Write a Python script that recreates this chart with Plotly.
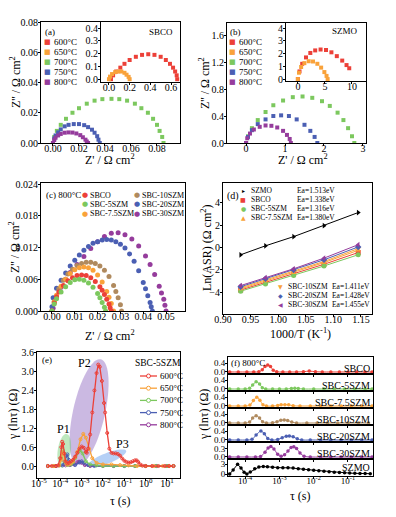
import numpy as np
import plotly.graph_objects as go

W, H = 396, 517
OX, OY = 0, 0
FONT = "Liberation Serif"
RED = "#ec4038"; ORANGE = "#f9a23a"; GREEN = "#7cc85e"; BLUE = "#4b5fb3"
PURPLE = "#953c9c"; BROWN = "#b08a5e"; BLACK = "#000000"

# ---------------- (a) SBCO Nyquist ----------------
a_labels = ["600°C", "650°C", "700°C", "750°C", "800°C"]
a600_x = [0.02, 0.04, 0.07, 0.11, 0.15, 0.20, 0.26, 0.32, 0.38, 0.44, 0.50, 0.55, 0.59, 0.62, 0.64, 0.655, 0.66]
a600_y = [0.00, 0.03, 0.06, 0.09, 0.12, 0.15, 0.175, 0.19, 0.195, 0.19, 0.175, 0.15, 0.12, 0.09, 0.06, 0.03, 0.00]
a650_x = [0.00, 0.01, 0.03, 0.06, 0.09, 0.12, 0.15, 0.17, 0.19, 0.20]
a650_y = [0.00, 0.02, 0.04, 0.055, 0.06, 0.06, 0.05, 0.035, 0.018, 0.00]
a700_x = [0.000, 0.001, 0.003, 0.006, 0.010, 0.015, 0.020, 0.026, 0.032, 0.038, 0.045, 0.051, 0.057, 0.063, 0.068, 0.073, 0.077, 0.080, 0.082, 0.084, 0.085]
a700_y = [0.000, 0.004, 0.008, 0.012, 0.016, 0.020, 0.023, 0.026, 0.028, 0.029, 0.0292, 0.029, 0.028, 0.026, 0.023, 0.020, 0.016, 0.012, 0.008, 0.004, 0.000]
a750_x = [0.000, 0.001, 0.002, 0.004, 0.006, 0.009, 0.012, 0.016, 0.020, 0.024, 0.027, 0.030, 0.032, 0.034, 0.035, 0.036]
a750_y = [0.000, 0.003, 0.005, 0.007, 0.009, 0.011, 0.012, 0.0125, 0.0125, 0.0118, 0.0105, 0.0088, 0.0068, 0.0045, 0.0022, 0.000]
a800_x = [0.000, 0.001, 0.002, 0.004, 0.006, 0.009, 0.012, 0.015, 0.018, 0.021, 0.023, 0.025, 0.026, 0.027]
a800_y = [0.000, 0.002, 0.0035, 0.005, 0.006, 0.0068, 0.007, 0.0069, 0.0063, 0.0052, 0.0038, 0.0022, 0.001, 0.000]

# ---------------- (b) SZMO Nyquist ----------------
b600_x = [0.0, 0.3, 0.8, 1.5, 2.3, 3.2, 4.2, 5.2, 6.2, 7.2, 8.2, 9.0, 9.5]
b600_y = [0.0, 0.6, 1.2, 1.7, 2.05, 2.25, 2.32, 2.28, 2.1, 1.8, 1.45, 1.1, 0.85]
b650_x = [0.0, 0.2, 0.6, 1.2, 2.0, 2.8, 3.6, 4.3, 4.9, 5.3, 5.5]
b650_y = [0.0, 0.5, 0.95, 1.25, 1.4, 1.38, 1.2, 0.9, 0.55, 0.25, 0.0]
b700_x = [0.00, 0.05, 0.15, 0.30, 0.50, 0.70, 0.95, 1.20, 1.45, 1.70, 1.95, 2.15, 2.35, 2.50, 2.62, 2.72, 2.78]
b700_y = [0.00, 0.10, 0.22, 0.34, 0.46, 0.56, 0.63, 0.68, 0.69, 0.67, 0.62, 0.55, 0.45, 0.34, 0.22, 0.10, 0.00]
b750_x = [0.00, 0.05, 0.15, 0.30, 0.50, 0.70, 0.90, 1.10, 1.30, 1.50, 1.65, 1.76, 1.83]
b750_y = [0.00, 0.09, 0.19, 0.28, 0.35, 0.40, 0.41, 0.40, 0.35, 0.27, 0.18, 0.09, 0.00]
b800_x = [0.00, 0.03, 0.10, 0.20, 0.35, 0.50, 0.65, 0.80, 0.95, 1.05, 1.12, 1.15]
b800_y = [0.00, 0.07, 0.14, 0.20, 0.24, 0.26, 0.255, 0.23, 0.18, 0.12, 0.06, 0.00]

# ---------------- (c) 800 °C Nyquist ----------------
c_names = ["SBCO", "SBC-5SZM", "SBC-7.5SZM", "SBC-10SZM", "SBC-20SZM", "SBC-30SZM"]
c_sbco_x = [0.000, 0.001, 0.002, 0.003, 0.005, 0.007, 0.009, 0.011, 0.013, 0.015, 0.017, 0.019, 0.021, 0.022, 0.023, 0.024, 0.025, 0.0255, 0.026]
c_sbco_y = [0.000, 0.0015, 0.0027, 0.0036, 0.0048, 0.0057, 0.0063, 0.0067, 0.0068, 0.0067, 0.0063, 0.0056, 0.0046, 0.0039, 0.0031, 0.0022, 0.0013, 0.0006, 0.000]
c_5_x = [0.000, 0.001, 0.002, 0.004, 0.006, 0.008, 0.010, 0.012, 0.014, 0.016, 0.018, 0.020, 0.021, 0.022, 0.023, 0.0235]
c_5_y = [0.000, 0.0013, 0.0023, 0.0036, 0.0046, 0.0054, 0.0059, 0.0060, 0.0058, 0.0053, 0.0045, 0.0033, 0.0025, 0.0016, 0.0007, 0.000]
c_75_x = [0.000, 0.001, 0.002, 0.004, 0.006, 0.008, 0.010, 0.012, 0.014, 0.016, 0.018, 0.020, 0.022, 0.024, 0.025, 0.026, 0.027]
c_75_y = [0.000, 0.0017, 0.003, 0.0047, 0.006, 0.0071, 0.0078, 0.0082, 0.0083, 0.0082, 0.0077, 0.0068, 0.0055, 0.0037, 0.0026, 0.0014, 0.000]
c_10_x = [0.000, 0.001, 0.003, 0.005, 0.007, 0.009, 0.011, 0.013, 0.015, 0.017, 0.019, 0.021, 0.023, 0.025, 0.027, 0.028, 0.029, 0.030, 0.0305]
c_10_y = [0.000, 0.0018, 0.0042, 0.0058, 0.007, 0.0079, 0.0086, 0.009, 0.0092, 0.0092, 0.009, 0.0085, 0.0077, 0.0065, 0.0048, 0.0037, 0.0025, 0.0012, 0.000]
c_20_x = [0.000, 0.0005, 0.002, 0.004, 0.006, 0.008, 0.010, 0.012, 0.014, 0.016, 0.018, 0.020, 0.022, 0.024, 0.026, 0.028, 0.030, 0.032, 0.034, 0.036, 0.038, 0.040, 0.041, 0.042, 0.043, 0.0435, 0.044]
c_20_y = [0.0008, 0.0025, 0.0043, 0.0058, 0.0072, 0.0085, 0.0096, 0.0106, 0.0115, 0.0122, 0.0128, 0.0131, 0.0134, 0.0135, 0.0134, 0.0131, 0.0126, 0.0119, 0.0108, 0.0094, 0.0076, 0.0054, 0.0042, 0.0029, 0.0016, 0.0008, 0.000]
c_30_x = [0.0005, 0.002, 0.004, 0.006, 0.008, 0.011, 0.014, 0.017, 0.020, 0.023, 0.026, 0.029, 0.032, 0.035, 0.038, 0.041, 0.043, 0.045, 0.047, 0.048, 0.049, 0.0495, 0.050]
c_30_y = [0.0005, 0.0025, 0.0045, 0.006, 0.0073, 0.0088, 0.0103, 0.0118, 0.0131, 0.0141, 0.0147, 0.0148, 0.0144, 0.0136, 0.0123, 0.0104, 0.0088, 0.0069, 0.0047, 0.0034, 0.0022, 0.0011, 0.000]

# ---------------- (d) Arrhenius ----------------
d_invT = [0.932, 0.977, 1.028, 1.083, 1.145]
d_szmo = [-0.65, 0.15, 0.97, 1.95, 3.12]
d_sbco = [-3.8, -3.1, -2.35, -1.5, -0.45]
d_5 = [-3.9, -3.25, -2.5, -1.65, -0.65]
d_75 = [-3.7, -3.0, -2.25, -1.35, -0.25]
d_10 = [-3.6, -2.9, -2.15, -1.25, -0.1]
d_20 = [-3.5, -2.8, -2.0, -1.1, 0.05]
d_30 = [-3.4, -2.7, -1.9, -0.95, 0.25]
d_ea = ["Ea=1.513eV", "Ea=1.338eV", "Ea=1.316eV", "Ea=1.380eV", "Ea=1.411eV", "Ea=1.428eV", "Ea=1.455eV"]

# ---------------- (e) DRT of SBC-5SZM (log10 tau, gamma) ----------------
e600_lt = [-4.58, -4.4, -4.2, -4.1, -4.0, -3.95, -3.91, -3.87, -3.82, -3.75, -3.67, -3.6, -3.5, -3.4, -3.3, -3.2, -3.1, -3.0, -2.9, -2.8, -2.76, -2.7, -2.6, -2.5, -2.4, -2.3, -2.22, -2.15, -2.05, -1.95, -1.9, -1.8, -1.7, -1.6, -1.5, -1.4, -1.3, -1.2, -1.1, -1.0, -0.9, -0.8, -0.7, -0.6, -0.5, -0.42, -0.35, -0.25, -0.15, 0.0, 0.3, 0.6, 0.9, 1.1, 1.3]
e600_g = [0, 0, 0, 0.02, 0.25, 0.6, 0.77, 0.7, 0.4, 0.15, 0.08, 0.1, 0.15, 0.2, 0.3, 0.42, 0.55, 0.62, 0.58, 0.45, 0.42, 0.55, 1.0, 1.7, 2.4, 2.95, 3.22, 3.15, 2.7, 2.0, 1.7, 1.05, 0.55, 0.42, 0.4, 0.4, 0.38, 0.33, 0.24, 0.17, 0.13, 0.11, 0.12, 0.15, 0.18, 0.18, 0.13, 0.05, 0.01, 0, 0, 0, 0, 0, 0]
e650_lt = [-4.58, -4.3, -4.05, -3.95, -3.9, -3.85, -3.78, -3.7, -3.6, -3.5, -3.4, -3.3, -3.2, -3.05, -2.92, -2.8, -2.65, -2.5, -2.3, -2.0, -1.6, -1.2, -0.8, -0.4, 0.0, 0.4, 0.8, 1.1, 1.3]
e650_g = [0, 0, 0.02, 0.2, 0.45, 0.4, 0.15, 0.05, 0.05, 0.08, 0.15, 0.28, 0.45, 0.85, 1.02, 0.9, 0.55, 0.25, 0.1, 0.05, 0.05, 0.03, 0.02, 0.0, 0, 0, 0, 0, 0]
e700_lt = [-4.58, -4.3, -4.05, -3.95, -3.88, -3.82, -3.75, -3.65, -3.5, -3.4, -3.3, -3.15, -3.08, -2.95, -2.8, -2.6, -2.3, -2.0, -1.5, -1.0, -0.5, 0.0, 0.5, 1.0, 1.3]
e700_g = [0, 0, 0.02, 0.25, 0.5, 0.4, 0.12, 0.03, 0.05, 0.12, 0.25, 0.45, 0.5, 0.4, 0.15, 0.05, 0.02, 0, 0, 0, 0, 0, 0, 0, 0]
e750_lt = [-4.58, -4.2, -3.9, -3.8, -3.72, -3.67, -3.6, -3.5, -3.3, -3.1, -3.0, -2.9, -2.7, -2.4, -2.0, -1.5, -1.0, -0.5, 0.0, 0.5, 1.0, 1.3]
e750_g = [0, 0, 0.02, 0.15, 0.32, 0.37, 0.2, 0.05, 0.03, 0.12, 0.15, 0.1, 0.03, 0, 0, 0, 0, 0, 0, 0, 0, 0]
e800_lt = [-4.58, -4.2, -3.75, -3.65, -3.55, -3.35, -3.2, -3.12, -3.0, -2.85, -2.6, -2.0, -1.5, -1.0, -0.5, 0.0, 0.5, 1.0, 1.3]
e800_g = [0, 0, 0.02, 0.06, 0.03, 0.05, 0.12, 0.14, 0.1, 0.03, 0, 0, 0, 0, 0, 0, 0, 0, 0]
e_labels = ["600°C", "650°C", "700°C", "750°C", "800°C"]

# ---------------- (f) DRT at 800 °C (log10 tau, gamma) ----------------
f_names = ["SBCO", "SBC-5SZM", "SBC-7.5SZM", "SBC-10SZM", "SBC-20SZM", "SBC-30SZM", "SZMO"]
f_sbco_lt = [-4.45, -4.2, -3.95, -3.75, -3.6, -3.5, -3.42, -3.34, -3.26, -3.18, -3.08, -2.9, -2.7, -2.5, -2.3, -2.13, -1.95, -1.75, -1.5, -1.25, -1.0, -0.75, -0.5, -0.3]
f_sbco_g = [0, 0, 0, 0, 0.01, 0.1, 0.25, 0.31, 0.24, 0.08, 0.01, 0, 0, 0, 0.01, 0.04, 0.01, 0, 0, 0, 0, 0, 0, 0]
f_5_lt = [-4.45, -4.2, -4.0, -3.87, -3.78, -3.68, -3.58, -3.5, -3.4, -3.2, -3.0, -2.8, -2.65, -2.55, -2.45, -2.3, -2.0, -1.7, -1.4, -1.1, -0.8, -0.5, -0.3]
f_5_g = [0, 0, 0, 0.03, 0.18, 0.32, 0.22, 0.06, 0.0, 0, 0, 0, 0.02, 0.03, 0.02, 0, 0, 0, 0, 0, 0, 0, 0]
f_75_lt = [-4.45, -4.2, -4.0, -3.86, -3.76, -3.66, -3.57, -3.48, -3.38, -3.2, -3.05, -2.95, -2.84, -2.73, -2.6, -2.4, -2.1, -1.8, -1.5, -1.2, -0.9, -0.6, -0.3]
f_75_g = [0, 0, 0, 0.04, 0.25, 0.39, 0.26, 0.06, 0.0, 0, 0.02, 0.05, 0.06, 0.05, 0.01, 0, 0, 0, 0, 0, 0, 0, 0]
f_10_lt = [-4.45, -4.2, -4.0, -3.87, -3.78, -3.68, -3.58, -3.49, -3.38, -3.2, -3.07, -2.96, -2.86, -2.76, -2.64, -2.5, -2.2, -1.9, -1.6, -1.3, -1.0, -0.7, -0.4]
f_10_g = [0, 0, 0, 0.04, 0.22, 0.32, 0.22, 0.05, 0.0, 0.01, 0.06, 0.12, 0.13, 0.11, 0.04, 0, 0, 0, 0, 0, 0, 0, 0]
f_20_lt = [-4.45, -4.2, -3.95, -3.8, -3.68, -3.54, -3.44, -3.34, -3.22, -3.05, -2.92, -2.8, -2.71, -2.6, -2.48, -2.35, -2.1, -1.8, -1.5, -1.2, -0.9, -0.6, -0.3]
f_20_g = [0, 0, 0, 0.03, 0.22, 0.40, 0.28, 0.07, 0.0, 0.02, 0.1, 0.17, 0.18, 0.14, 0.05, 0, 0, 0, 0, 0, 0, 0, 0]
f_30_lt = [-4.45, -4.2, -3.95, -3.7, -3.55, -3.42, -3.33, -3.25, -3.16, -3.05, -2.95, -2.85, -2.75, -2.66, -2.58, -2.5, -2.4, -2.28, -2.1, -1.8, -1.5, -1.2, -0.9, -0.6, -0.3]
f_30_g = [0, 0, 0, 0, 0.02, 0.18, 0.34, 0.39, 0.3, 0.1, 0.03, 0.08, 0.22, 0.35, 0.38, 0.32, 0.15, 0.03, 0, 0, 0, 0, 0, 0, 0]
f_szmo_lt = [-4.45, -4.35, -4.22, -4.12, -4.03, -3.95, -3.85, -3.72, -3.6, -3.47, -3.35, -3.2, -3.05, -2.9, -2.75, -2.6, -2.45, -2.3, -2.15, -2.0, -1.85, -1.7, -1.55, -1.4, -1.25, -1.1, -0.95, -0.8, -0.65, -0.5, -0.35]
f_szmo_g = [0, 1.2, 2.9, 1.8, 0.5, 0.0, 0.6, 1.6, 2.1, 2.25, 2.15, 2.0, 1.85, 1.85, 1.9, 1.8, 1.6, 1.45, 1.3, 1.15, 1.0, 0.85, 0.7, 0.55, 0.45, 0.35, 0.27, 0.2, 0.15, 0.12, 0.1]


def tau(lt):
    return [10 ** v for v in lt]


def px2x(px):
    return (px - OX) / W


def py2y(py):
    return 1 - (py - OY) / H


def dxd(a, b):
    return [px2x(a), px2x(b)]


def dyd(top, bottom):
    return [py2y(bottom), py2y(top)]


def axis(domain, anchor, rng, typ="linear", dtick=None, tick0=None, fmt=None,
         tickvals=None, ticktext=None, labels=True, size=10, xaxis=True, **kw):
    d = dict(domain=domain, anchor=anchor, range=rng, type=typ, showline=True,
             linecolor="black", linewidth=1, mirror=True, ticks="outside",
             ticklen=2, tickwidth=1, tickcolor="black", showgrid=False,
             zeroline=False, showticklabels=labels,
             ticklabelstandoff=-6 if xaxis else -2,
             tickfont=dict(family=FONT, size=size, color="black"))
    if dtick is not None:
        d["dtick"] = dtick
        d["tick0"] = tick0 if tick0 is not None else 0
    if fmt:
        d["tickformat"] = fmt
    if tickvals is not None:
        d["tickvals"] = tickvals
        d["tickmode"] = "array"
    if ticktext is not None:
        d["ticktext"] = ticktext
    d.update(kw)
    return d


fig = go.Figure()
L = {}

L["xaxis"] = axis(dxd(41, 180), "y", [-0.0092, 0.0977], dtick=0.02, fmt=".2f")
L["yaxis"] = axis(dyd(22, 143), "x", [0, 0.08], dtick=0.02, fmt=".2f", xaxis=False)
L["xaxis2"] = axis(dxd(101, 180), "y2", [-0.077, 0.687], dtick=0.2, fmt=".1f")
L["yaxis2"] = axis(dyd(22, 82), "x2", [-0.022, 0.447], dtick=0.1, fmt=".1f", xaxis=False)
L["xaxis3"] = axis(dxd(227, 366), "y3", [-0.49, 3.08], dtick=1)
L["yaxis3"] = axis(dyd(23, 143), "x3", [0, 1.78], dtick=0.4, fmt=".1f", xaxis=False)
L["xaxis4"] = axis(dxd(286, 366), "y4", [-2.2, 12.6], dtick=5)
L["yaxis4"] = axis(dyd(23, 81), "x4", [-0.15, 4.4], dtick=1, xaxis=False)
L["xaxis5"] = axis(dxd(41, 185), "y5", [-0.0048, 0.0583], dtick=0.01, fmt=".2f")
L["yaxis5"] = axis(dyd(183, 311), "x5", [0, 0.0242], dtick=0.006, fmt=".3f", xaxis=False)
L["xaxis6"] = axis(dxd(223, 372), "y6", [0.90, 1.17], dtick=0.05, fmt=".2f")
L["yaxis6"] = axis(dyd(183, 314), "x6", [-5.94, 5.76], dtick=2, xaxis=False)
e_rng = [-5.09, 1.61]
L["xaxis7"] = axis(dxd(37, 180), "y7", e_rng, typ="log",
                   tickvals=[1e-5, 1e-4, 1e-3, 1e-2, 1e-1, 1, 10],
                   ticktext=["10<sup>-5</sup>", "10<sup>-4</sup>", "10<sup>-3</sup>", "10<sup>-2</sup>",
                             "10<sup>-1</sup>", "10<sup>0</sup>", "10<sup>1</sup>"])
L["yaxis7"] = axis(dyd(352, 478), "x7", [-0.38, 3.62], dtick=0.6, fmt=".1f", xaxis=False)
L["xaxis16"] = dict(domain=dxd(37, 180), anchor="y7", overlaying="x7", range=e_rng,
                    visible=False, showgrid=False, zeroline=False)

f_ranges = [[-0.09, 0.67]] * 5 + [[-0.075, 0.56], [-0.6, 4.5]]
f_ticks = [[0, 0.4]] * 5 + [[0, 0.3], [0, 3]]
f_ttext = [["0.0", "0.4"]] * 5 + [["0.0", "0.3"], ["0", "3"]]
f_rng_x = [-4.5, -0.27]
for i in range(7):
    n = 9 + i
    top = 357 + 17 * i
    last = i == 6
    L[f"xaxis{n}"] = axis(dxd(228, 373), f"y{n}", f_rng_x, typ="log",
                          tickvals=[1e-4, 1e-3, 1e-2, 1e-1],
                          ticktext=["10<sup>-4</sup>", "10<sup>-3</sup>", "10<sup>-2</sup>", "10<sup>-1</sup>"],
                          labels=last, size=9)
    L[f"yaxis{n}"] = axis(dyd(top, top + 17), f"x{n}", f_ranges[i], tickvals=f_ticks[i],
                          ticktext=f_ttext[i], size=9, xaxis=False)


def sc(x, y, ax, color, mode="markers", symbol="square", size=4, lw=1, open_=False, shape="linear"):
    sym = symbol + ("-open" if open_ else "")
    fig.add_trace(go.Scatter(x=x, y=y, xaxis="x" + ax, yaxis="y" + ax, mode=mode,
                             marker=dict(color=color, size=size, symbol=sym,
                                         line=dict(width=1 if open_ else 0, color=color)),
                             line=dict(color=color, width=lw, shape=shape),
                             showlegend=False, hoverinfo="skip"))


# (a)
for x, y, c in [(a700_x, a700_y, GREEN), (a750_x, a750_y, BLUE), (a800_x, a800_y, PURPLE)]:
    sc(x, y, "", c)
sc(a600_x, a600_y, "2", RED)
sc(a650_x, a650_y, "2", ORANGE)
# (b)
for x, y, c in [(b700_x, b700_y, GREEN), (b750_x, b750_y, BLUE), (b800_x, b800_y, PURPLE)]:
    sc(x, y, "3", c)
sc(b600_x, b600_y, "4", RED)
sc(b650_x, b650_y, "4", ORANGE)
# (c)
for x, y, c in [(c_30_x, c_30_y, PURPLE), (c_20_x, c_20_y, BLUE), (c_10_x, c_10_y, BROWN),
                (c_75_x, c_75_y, ORANGE), (c_sbco_x, c_sbco_y, RED), (c_5_x, c_5_y, GREEN)]:
    sc(x, y, "5", c, symbol="circle", size=5)
# (d)
d_series = [(d_szmo, BLACK, "triangle-right"), (d_sbco, RED, "square"), (d_5, GREEN, "circle"),
            (d_75, ORANGE, "triangle-up"), (d_10, ORANGE, "triangle-down"),
            (d_20, BLUE, "diamond"), (d_30, PURPLE, "triangle-left")]
for yv, c, s in d_series:
    sc(d_invT, yv, "6", c, mode="lines+markers", symbol=s, size=5, lw=1)
# (e)
e_series = [(e800_lt, e800_g, PURPLE), (e750_lt, e750_g, BLUE), (e700_lt, e700_g, GREEN),
            (e650_lt, e650_g, ORANGE), (e600_lt, e600_g, RED)]
for lt, g, c in e_series:
    sc(tau(lt), g, "7", c, mode="lines+markers", symbol="circle", size=3, lw=1.3, open_=True)
# (f)
f_series = [(f_sbco_lt, f_sbco_g, RED), (f_5_lt, f_5_g, GREEN), (f_75_lt, f_75_g, ORANGE),
            (f_10_lt, f_10_g, BROWN), (f_20_lt, f_20_g, BLUE), (f_30_lt, f_30_g, PURPLE),
            (f_szmo_lt, f_szmo_g, BLACK)]
for i, (lt, g, c) in enumerate(f_series):
    sc(tau(lt), g, str(9 + i), c, mode="lines+markers", symbol="circle", size=3.5, lw=1,
       shape="linear" if i == 6 else "spline")

# ---------------- annotations ----------------
ann = []


def A(px, py, text, size=10, color="black", xanchor="center", angle=0):
    ann.append(dict(x=px2x(px), y=py2y(py), xref="paper", yref="paper", text=text, showarrow=False,
                    font=dict(family=FONT, size=size, color=color), xanchor=xanchor,
                    yanchor="middle", textangle=angle, borderpad=0))


def G(px, py, glyph, color, size=8):
    ann.append(dict(x=px2x(px), y=py2y(py), xref="paper", yref="paper", text=glyph, showarrow=False,
                    font=dict(family="DejaVu Sans", size=size, color=color), xanchor="center",
                    yanchor="middle", borderpad=0))


ZT = "Z'' / Ω cm<sup>2</sup>"
ZX = "Z' / Ω cm<sup>2</sup>"
A(15, 82, ZT, 12, angle=-90); A(110, 159, ZX, 12)
A(204, 83, ZT, 12, angle=-90); A(303, 159, ZX, 12)
A(14, 247, ZT, 12, angle=-90); A(110, 335, ZX, 12)
A(206, 248, "Ln(ASR) (Ω cm<sup>2</sup>)", 12, angle=-90); A(300, 333, "1000/T (K<sup>-1</sup>)", 12)
A(13, 415, "γ (lnτ) (Ω)", 12, angle=-90); A(120, 501, "τ (s)", 12)
A(204, 415, "γ (lnτ) (Ω)", 12, angle=-90); A(300, 496, "τ (s)", 12)

acols = [RED, ORANGE, GREEN, BLUE, PURPLE]
A(44, 32, "(a)", 9, xanchor="left")
for i, (lab, c) in enumerate(zip(a_labels, acols)):
    G(47, 42 + 10 * i, "■", c, 7)
    A(53, 42 + 10 * i, lab, 9, xanchor="left")
A(174, 32, "SBCO", 9, xanchor="right")
A(229, 32, "(b)", 9, xanchor="left")
for i, (lab, c) in enumerate(zip(a_labels, acols)):
    G(232, 42 + 10 * i, "■", c, 7)
    A(238, 42 + 10 * i, lab, 9, xanchor="left")
A(359, 31, "SZMO", 9, xanchor="right")

A(45, 195, "(c) 800°C", 9, xanchor="left")
ccol1 = [(c_names[0], RED), (c_names[1], GREEN), (c_names[2], ORANGE)]
ccol2 = [(c_names[3], BROWN), (c_names[4], BLUE), (c_names[5], PURPLE)]
for i, (lab, c) in enumerate(ccol1):
    G(85, 195 + 9.3 * i, "●", c, 7)
    A(89, 195 + 9.3 * i, lab, 8, xanchor="left")
for i, (lab, c) in enumerate(ccol2):
    G(137, 195 + 9.3 * i, "●", c, 7)
    A(141, 195 + 9.3 * i, lab, 8, xanchor="left")

A(226, 196, "(d)", 10, xanchor="left")
dglyph = ["▸", "■", "●", "▲", "▼", "◆", "◀"]
dnames = ["SZMO", "SBCO", "SBC-5SZM", "SBC-7.5SZM", "SBC-10SZM", "SBC-20SZM", "SBC-30SZM"]
for i in range(4):
    yy = 190 + 9.3 * i
    G(243, yy, dglyph[i], d_series[i][1], 6)
    A(250, yy, dnames[i], 7.5, xanchor="left")
    A(296, yy, d_ea[i], 7.5, xanchor="left")
for j in range(3):
    i = 4 + j
    yy = 286 + 9.3 * j
    G(280, yy, dglyph[i], d_series[i][1], 6)
    A(287, yy, dnames[i], 7.5, xanchor="left")
    A(331, yy, d_ea[i], 7.5, xanchor="left")

A(41, 360, "(e)", 9, xanchor="left")
A(63, 429, "P1", 12); A(84, 363, "P2", 12); A(122, 444, "P3", 12)
A(158, 363, "SBC-5SZM", 9.5)
shapes = []
ecols = [RED, ORANGE, GREEN, BLUE, PURPLE]
for i, (lab, c) in enumerate(zip(e_labels, ecols)):
    yy = 376 + 12.2 * i
    shapes.append(dict(type="line", xref="paper", yref="paper", x0=px2x(140), x1=px2x(157),
                       y0=py2y(yy), y1=py2y(yy), line=dict(color=c, width=1.3)))
    shapes.append(dict(type="circle", xref="paper", yref="paper", x0=px2x(146.5), x1=px2x(150.5),
                       y0=py2y(yy + 2), y1=py2y(yy - 2), line=dict(color=c, width=1),
                       fillcolor="white"))
    A(159, yy, lab, 9, xanchor="left")

A(230, 363, "(f) 800°C", 9, xanchor="left")
f_label_y = [368, 385, 402, 419, 436, 453, 467]
for lab, yy in zip(f_names, f_label_y):
    A(371, yy, lab, 10, xanchor="right")

SX = (180 - 37) / (e_rng[1] - e_rng[0])
SY = (478 - 352) / (3.62 + 0.38)


def ellipse_path(cx, cy, a_px, b_px, ang):
    t = np.linspace(0, 2 * np.pi, 72)
    th = np.radians(ang)
    ex = a_px * np.cos(t) * np.cos(th) - b_px * np.sin(t) * np.sin(th)
    ey = a_px * np.cos(t) * np.sin(th) + b_px * np.sin(t) * np.cos(th)
    pts = [f"{cx + u / SX:.4f},{cy + v / SY:.4f}" for u, v in zip(ex, ey)]
    return "M " + " L ".join(pts) + " Z"


for cx, cy, a_px, b_px, ang, col in [(-2.65, 1.715, 54, 16, 77.5, "rgba(140,100,190,0.45)"),
                                     (-3.815, 0.483, 17, 6.5, 82, "rgba(110,205,110,0.45)"),
                                     (-1.808, 0.245, 20.5, 5.2, 21.5, "rgba(90,150,235,0.45)")]:
    shapes.append(dict(type="path", xref="x16", yref="y7", path=ellipse_path(cx, cy, a_px, b_px, ang),
                       fillcolor=col, line=dict(width=0), layer="below"))

fig.update_layout(**L)
fig.update_layout(width=W, height=H, margin=dict(l=0, r=0, t=0, b=0), template="none",
                  paper_bgcolor="white", plot_bgcolor="rgba(0,0,0,0)", showlegend=False,
                  annotations=ann, shapes=shapes, font=dict(family=FONT, color="black"))
fig.write_html("out.html", config={"displayModeBar": False},
               post_script="document.body.style.margin='0';")
